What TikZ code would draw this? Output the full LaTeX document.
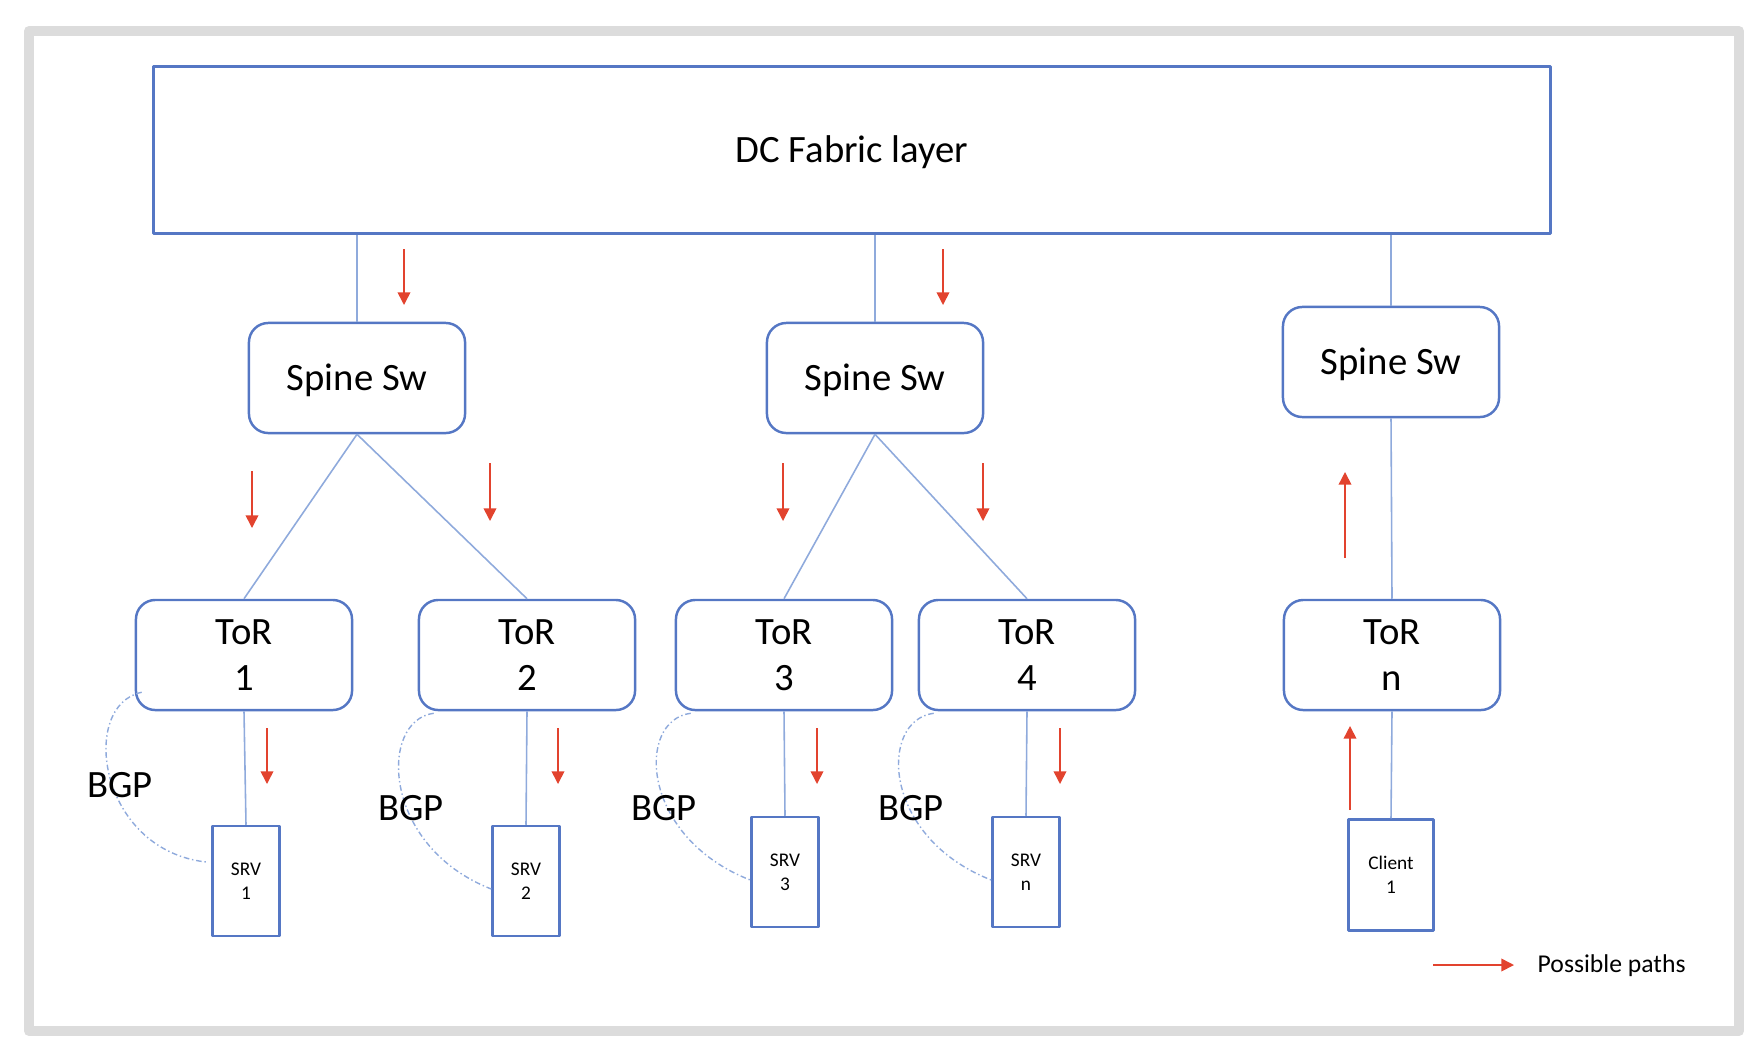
\documentclass[tikz,border=0pt]{standalone}
\usepackage{fontspec}
\setmainfont{Carlito}
\usetikzlibrary{arrows.meta,calc,positioning}
\definecolor{boxblue}{HTML}{5577C4}
\definecolor{linkblue}{HTML}{8FAADC}
\definecolor{pathred}{HTML}{E2432E}
\definecolor{framegray}{HTML}{DCDCDC}

\begin{document}
\begin{tikzpicture}[x=0.01cm,y=-0.01cm,line join=round,
	sw/.style={draw=boxblue,line width=0.7pt,rounded corners=5.5pt,minimum width=2.16cm,minimum height=1.1cm,align=center,font=\fontsize{11}{13}\selectfont},
	spinebox/.style={sw,text depth=0.3pt},
	host/.style={draw=boxblue,line width=0.7pt,minimum height=1.1cm,inner sep=0pt,align=center,font=\fontsize{5.5}{6.7}\selectfont},
	link/.style={draw=linkblue,line width=0.45pt},
	bgp/.style={draw=linkblue,line width=0.4pt,dash pattern=on 1.6pt off 0.8pt on 0.4pt off 0.8pt},
	flow/.style={draw=pathred,line width=0.45pt,-{Triangle[length=3.6pt,width=3.6pt]}}]
		\useasboundingbox (0,0) rectangle (1764,1048);
		\draw[framegray,line width=0.1cm] (29,31) rectangle (1739,1031);
		% fabric and spines
		\node[spinebox,minimum width=13.96cm,minimum height=1.67cm,rounded corners=0pt] (dc) at (852,150) {DC Fabric layer};
		\node[spinebox] (spine1) at (357,378) {Spine Sw};
		\node[spinebox] (spine2) at (875,378) {Spine Sw};
		\node[spinebox] (spine3) at (1391,362) {Spine Sw};
		% tors
		\node[sw] (tor1) at (244,655) {ToR\\1};
		\node[sw] (tor2) at (527,655) {ToR\\2};
		\node[sw] (tor3) at (784,655) {ToR\\3};
		\node[sw] (tor4) at (1027,655) {ToR\\4};
		\node[sw] (torn) at (1392,655) {ToR\\n};
		% hosts
		\node[host,minimum width=0.67cm] (srv1) at (246,881) {SRV\\1};
		\node[host,minimum width=0.67cm] (srv2) at (526,881) {SRV\\2};
		\node[host,minimum width=0.67cm] (srv3) at (785,872) {SRV\\3};
		\node[host,minimum width=0.67cm] (srvn) at (1026,872) {SRV\\n};
		\node[host,minimum width=0.85cm,minimum height=1.11cm] (client) at (1391,875) {Client\\1};
		% links
		\foreach \s in {spine1,spine2,spine3}{\draw[link] (\s.north) -- (\s.north |- dc.south);}
		\foreach \a/\b in {spine1/tor1,spine1/tor2,spine2/tor3,spine2/tor4,spine3/torn,tor1/srv1,tor2/srv2,tor3/srv3,tor4/srvn,torn/client}{\draw[link] (\a.south) -- (\b.north);}
		% bgp sessions
		\draw[bgp] ($(tor1.south west)+(7,-19)$) .. controls +(-63,13) and +(-108,-12) .. ($(srv1.west)+(-5,-19)$);
		\foreach \t/\h in {tor2/srv2,tor3/srv3,tor4/srvn}{\draw[bgp] ($(\t.south west)+(16,2)$) .. controls +(-55,7) and +(-110,-43) .. ($(\h.west)+(0,8)$);}
		\foreach \i/\p in {1/{120,785},2/{411,808},3/{664,808},4/{911,808}}{\node[font=\fontsize{11}{13}\selectfont] (bgp\i) at (\p) {BGP};}
		% possible paths
		\foreach \x/\a/\b in {404/249/305,943/249/305,252/471/528,490/463/521,783/463/521,983/463/521,267/728/784,558/728/784,817/728/784,1060/728/784,1345/558/472,1350/810/726}{\draw[flow] (\x,\a) -- (\x,\b);}
		\coordinate (legstart) at (1433,965);
		\node[anchor=west,inner sep=0pt,font=\fontsize{7.3}{9}\selectfont] (legend) at (1537,966) {Possible paths};
		\draw[flow] (legstart) -- ($(legend.west)+(-23,-1)$);
\end{tikzpicture}
\end{document}
